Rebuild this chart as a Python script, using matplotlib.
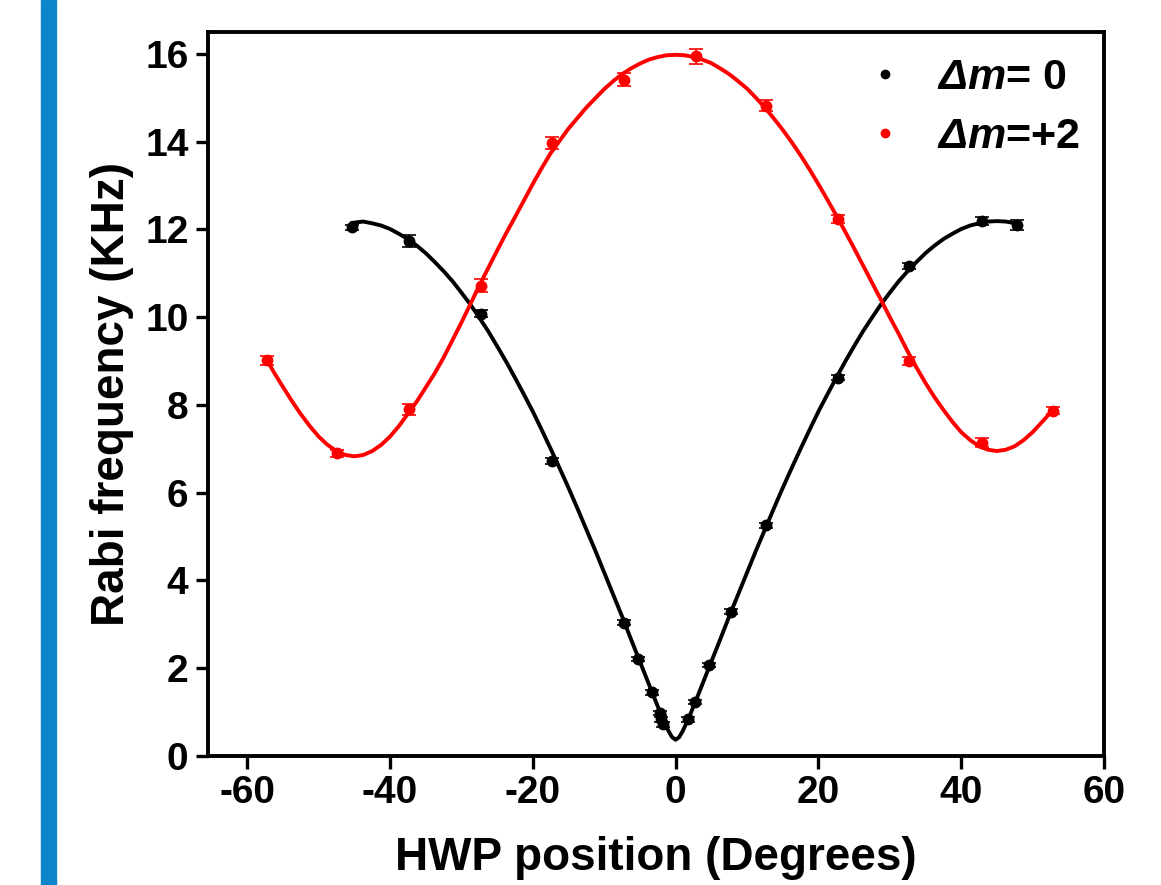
import matplotlib
matplotlib.use("Agg")
import matplotlib.pyplot as plt
from matplotlib.patches import Rectangle

plt.rcParams['font.family'] = ['Liberation Sans', 'DejaVu Sans']
plt.rcParams['font.weight'] = 'bold'
plt.rcParams['axes.unicode_minus'] = False
plt.rcParams['mathtext.fontset'] = 'custom'
plt.rcParams['mathtext.bfit'] = 'Liberation Sans:italic:bold'
plt.rcParams['mathtext.it'] = 'Liberation Sans:italic:bold'
plt.rcParams['mathtext.rm'] = 'Liberation Sans:bold'

# ---- measured points (Delta m = 0) ----
x0 = [-45.3, -37.3, -27.3, -17.3, -7.3, -5.3, -3.3, -2.2, -2.0, -1.7,
      1.7, 2.7, 4.7, 7.7, 12.7, 22.8, 32.7, 42.9, 47.8]
y0 = [12.05, 11.73, 10.08, 6.73, 3.04, 2.21, 1.45, 0.98, 0.84, 0.72,
      0.84, 1.23, 2.08, 3.29, 5.26, 8.62, 11.17, 12.19, 12.10]
e0 = [0.06, 0.14, 0.08, 0.07, 0.05, 0.05, 0.05, 0.05, 0.06, 0.06,
      0.06, 0.05, 0.05, 0.05, 0.06, 0.06, 0.06, 0.09, 0.12]

# ---- measured points (Delta m = +2) ----
x2 = [-57.3, -47.4, -37.3, -27.3, -17.3, -7.3, 2.8, 12.7, 22.8, 32.7, 42.9, 52.9]
y2 = [9.02, 6.90, 7.90, 10.72, 13.97, 15.41, 15.95, 14.82, 12.24, 9.00, 7.14, 7.87]
e2 = [0.10, 0.08, 0.12, 0.14, 0.13, 0.15, 0.17, 0.13, 0.10, 0.10, 0.10, 0.08]

# ---- fitted curves ----
fx0 = [-45.3, -43.75, -42.5, -41.25, -40, -38.75, -37.5, -36.25, -35, -33.75, -32.5,
       -31.25, -30, -28.75, -27.5, -26.25, -25, -23.75, -22.5, -21.25, -20, -18.75,
       -17.5, -16.25, -15, -13.75, -12.5, -11.25, -10, -8.75, -7.5, -6.25, -5, -4,
       -3, -2, -1, -0.5, 0, 0.5, 1, 2, 3, 4, 5, 6.25, 7.5, 8.75, 10, 11.25, 12.5,
       13.75, 15, 16.25, 17.5, 18.75, 20, 21.25, 22.5, 23.75, 25, 26.25, 27.5,
       28.75, 30, 31.25, 32.5, 33.75, 35, 36.25, 37.5, 38.75, 40, 41.25, 42.5,
       43.75, 45, 46.25, 48.2]
fy0 = [12.15, 12.18, 12.14, 12.09, 12.01, 11.90, 11.78, 11.63, 11.46, 11.26, 11.05,
       10.82, 10.56, 10.29, 9.99, 9.68, 9.34, 8.99, 8.62, 8.24, 7.85, 7.43,
       7.00, 6.56, 6.11, 5.64, 5.16, 4.68, 4.18, 3.68, 3.18, 2.66, 2.15, 1.74,
       1.33, 0.93, 0.57, 0.43, 0.37, 0.43, 0.57, 0.93, 1.33, 1.74, 2.15, 2.66, 3.18,
       3.68, 4.18, 4.68, 5.16, 5.64, 6.11, 6.56, 7.00, 7.43, 7.85, 8.24, 8.62,
       8.99, 9.34, 9.68, 9.99, 10.29, 10.56, 10.82, 11.05, 11.26, 11.46, 11.63,
       11.78, 11.90, 12.01, 12.09, 12.14, 12.18, 12.19, 12.18, 12.12]

fx2 = [-57.3, -56.25, -55, -53.75, -52.5, -51.25, -50, -48.75, -47.5, -46.25, -45,
       -43.75, -42.5, -41.25, -40, -38.75, -37.5, -36.25, -35, -33.75, -32.5, -31.25,
       -30, -28.75, -27.5, -26.25, -25, -23.75, -22.5, -21.25, -20, -18.75, -17.5,
       -16.25, -15, -13.75, -12.5, -11.25, -10, -8.75, -7.5, -6.25, -5, -3.75, -2.5,
       -1.25, 0, 1.25, 2.5, 3.75, 5, 6.25, 7.5, 8.75, 10, 11.25, 12.5, 13.75, 15,
       16.25, 17.5, 18.75, 20, 21.25, 22.5, 23.75, 25, 26.25, 27.5, 28.75, 30, 31.25,
       32.5, 33.75, 35, 36.25, 37.5, 38.75, 40, 41.25, 42.5, 43.75, 45, 46.25, 47.5,
       48.75, 50, 51.25, 52.7]
fy2 = [9.04, 8.74, 8.41, 8.09, 7.79, 7.52, 7.28, 7.09, 6.95, 6.86, 6.83,
       6.86, 6.95, 7.09, 7.28, 7.52, 7.80, 8.08, 8.40, 8.72, 9.08, 9.48,
       9.88, 10.30, 10.72, 11.12, 11.52, 11.91, 12.28, 12.66, 13.04, 13.40, 13.74,
       14.02, 14.30, 14.54, 14.78, 14.99, 15.20, 15.38, 15.54, 15.67, 15.78, 15.87, 15.93,
       15.97, 15.98, 15.97, 15.93, 15.87, 15.79, 15.67, 15.54, 15.38, 15.21, 15.00, 14.78,
       14.53, 14.27, 13.99, 13.69, 13.37, 13.03, 12.68, 12.32, 11.95, 11.57, 11.18,
       10.79, 10.40, 10.00, 9.62, 9.22, 8.85, 8.50, 8.18, 7.89, 7.62, 7.38, 7.20,
       7.06, 6.98, 6.95, 6.98, 7.06, 7.20, 7.38, 7.60, 7.86]

labels = [r'$\mathbfit{\Delta m}$= 0', r'$\mathbfit{\Delta m}$=+2']
xticks = [-60, -40, -20, 0, 20, 40, 60]
yticks = [0, 2, 4, 6, 8, 10, 12, 14, 16]

fig = plt.figure(figsize=(11.61, 8.85), dpi=100)
fig.patches.append(Rectangle((41 / 1161, 0), 15 / 1161, 1, transform=fig.transFigure,
                             color='#0b86ca', zorder=0))
ax = fig.add_axes([208 / 1161, 1 - 756 / 885, (1104 - 208) / 1161, (756 - 32) / 885])

ax.plot(fx0, fy0, color='black', lw=2.8, zorder=2, solid_joinstyle='round')
ax.plot(fx2, fy2, color='#ff0000', lw=2.8, zorder=2, solid_joinstyle='round')
ax.errorbar(x0, y0, yerr=e0, fmt='o', color='black', ms=7.5, elinewidth=1.2,
            capsize=5, capthick=1.2, zorder=3, label=labels[0])
ax.errorbar(x2, y2, yerr=e2, fmt='o', color='#ff0000', ms=7.5, elinewidth=1.2,
            capsize=5, capthick=1.2, zorder=3, label=labels[1])

ax.set_xlim(-65.5, 60)
ax.set_ylim(0, 16.5)
ax.set_xticks(xticks)
ax.set_yticks(yticks)
ax.tick_params(axis='both', direction='out', length=9, width=2.4, labelsize=28, pad=5)
for lab in ax.get_xticklabels() + ax.get_yticklabels():
    lab.set_fontweight('bold')
for s in ax.spines.values():
    s.set_linewidth(2.8)

ax.set_xlabel('HWP position (Degrees)', fontsize=33, fontweight='bold', labelpad=18)
ax.set_ylabel('Rabi frequency (KHz)', fontsize=33, fontweight='bold', labelpad=8)

h, l = ax.get_legend_handles_labels()
h = [hh[0] for hh in h]
leg = ax.legend(h, l, loc='upper right', bbox_to_anchor=(1.016, 1.018), frameon=False,
                prop={'size': 31, 'weight': 'bold'}, handlelength=0.5,
                handletextpad=0.95, labelspacing=0.44, markerscale=0.8)

fig.savefig('out.png', dpi=100)
